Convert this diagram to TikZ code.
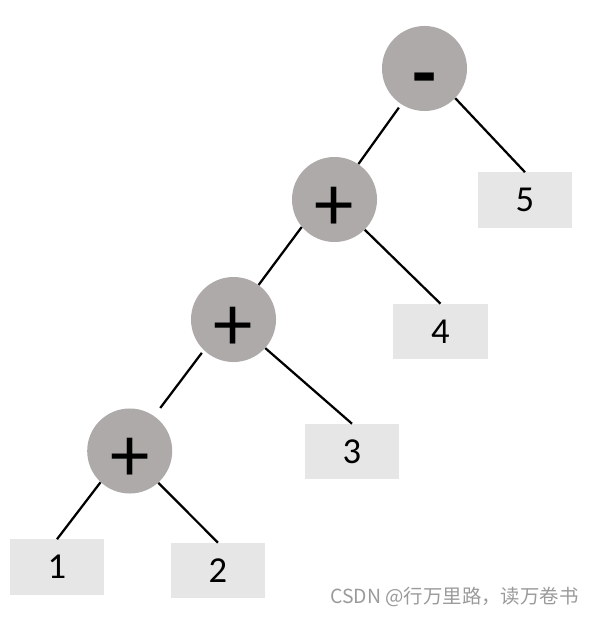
\documentclass[tikz,border=0pt]{standalone}
\usepackage{fontspec}
\setmainfont{Carlito}
\newfontfamily\cjkfont{Noto Sans CJK SC}
\definecolor{opgray}{HTML}{AEAAAA}
\definecolor{leafgray}{HTML}{E7E6E6}
\definecolor{markgray}{HTML}{9A9A9A}

\begin{document}
\begin{tikzpicture}[x=0.025cm,y=-0.025cm,
	op/.style={circle, fill=opgray, minimum size=2.125cm, inner sep=0pt, text height=44pt, text depth=0pt, font=\fontsize{56}{60}\selectfont},
	leaf/.style={fill=leafgray, minimum width=2.35cm, minimum height=1.375cm, inner sep=0pt, font=\fontsize{26}{30}\selectfont},
	edge/.style={black, line width=1.6pt}]
	\useasboundingbox (0,0) rectangle (595,617);

	% operators
	\node[op] (minus) at (424.5,68.5) {\bfseries -};
	\node[op] (plusA) at (334.5,199.5) {+};
	\node[op] (plusB) at (233.5,319.5) {+};
	\node[op] (plusC) at (129.7,451) {+};

	% leaves
	\node[leaf] (five)  at (525,200) {5};
	\node[leaf] (four)  at (440.5,331.5) {4};
	\node[leaf] (three) at (352,451.5) {3};
	\node[leaf] (one)   at (57,567) {1};
	\node[leaf] (two)   at (218,570.5) {2};

	% left branch
	\draw[edge, shorten <=0.1cm] (minus.-123) -- (plusA.56);
	\draw[edge] (plusA.-140) -- (plusB.54);
	\draw[edge, shorten <=0.08cm, shorten >=0.25cm] (plusB.-134) -- (plusC.55);
	\draw[edge] (plusC.-133) -- (one.north);
	% right branch
	\draw[edge] (minus.-44) -- (five.north);
	\draw[edge] (plusA.-45) -- (four.north);
	\draw[edge] (plusB.-42) -- (three.north);
	\draw[edge] (plusC.-48) -- (two.north);

	% mark
	\node[text=markgray, font=\cjkfont\fontsize{13.8}{16}\selectfont] (mark) at (454.5,597) {CSDN @行万里路，读万卷书};
\end{tikzpicture}
\end{document}
